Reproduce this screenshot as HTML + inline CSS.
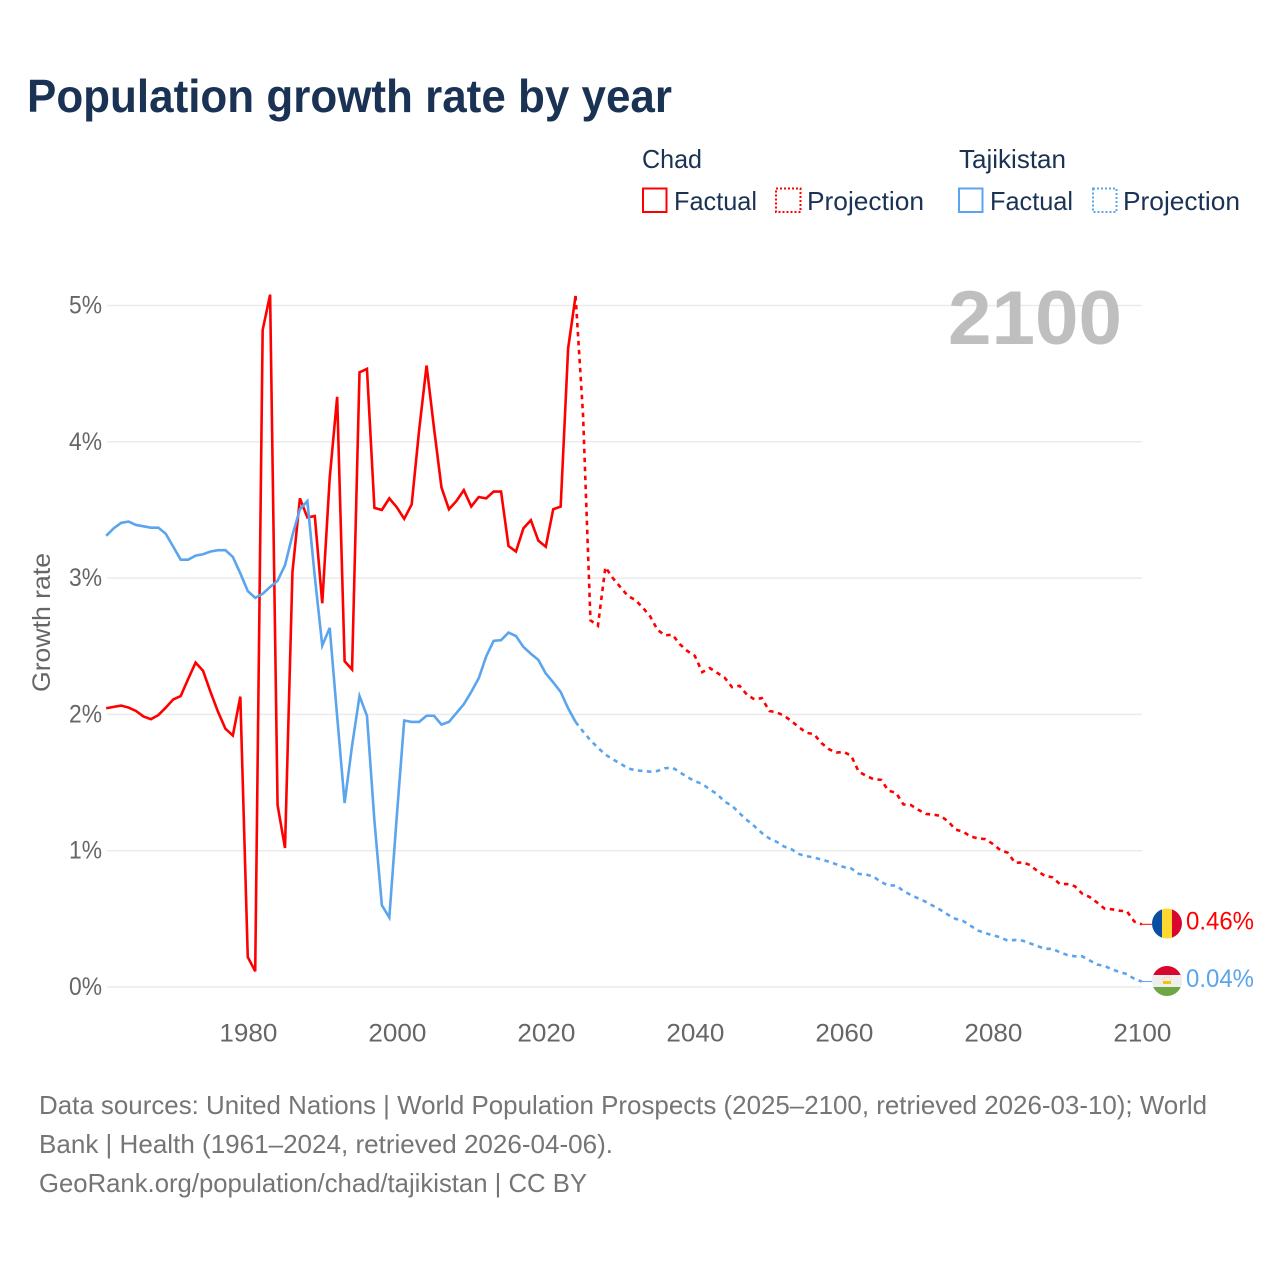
<!DOCTYPE html>
<html lang="en">
<head>
<meta charset="utf-8">
<title>Population growth rate by year</title>
<style>
html,body{margin:0;padding:0;background:#fff;}
svg{display:block;font-family:"Liberation Sans",sans-serif;}
</style>
</head>
<body>
<svg id="chart" xmlns="http://www.w3.org/2000/svg" width="1280" height="1280" viewBox="0 0 1280 1280">
  <rect x="0" y="0" width="1280" height="1280" fill="#ffffff"/>
  <text x="27" y="112" font-size="46" font-weight="700" fill="#1a3354" textLength="645" lengthAdjust="spacingAndGlyphs">Population growth rate by year</text>

  <g font-size="26" fill="#1a3354">
    <text x="642" y="168" textLength="60" lengthAdjust="spacingAndGlyphs">Chad</text>
    <text x="959" y="168" textLength="107" lengthAdjust="spacingAndGlyphs">Tajikistan</text>
    <rect x="643" y="188.5" width="23.5" height="23.5" fill="none" stroke="#ff0000" stroke-width="2"/>
    <text x="674" y="210" textLength="83" lengthAdjust="spacingAndGlyphs">Factual</text>
    <rect x="776" y="188.5" width="24.5" height="23.5" fill="none" stroke="#ff0000" stroke-width="2" stroke-dasharray="2 2"/>
    <text x="807" y="210" textLength="117" lengthAdjust="spacingAndGlyphs">Projection</text>
    <rect x="959" y="188.5" width="23.5" height="23.5" fill="none" stroke="#5ba4ee" stroke-width="2"/>
    <text x="990" y="210" textLength="83" lengthAdjust="spacingAndGlyphs">Factual</text>
    <rect x="1093" y="188.5" width="23.5" height="23.5" fill="none" stroke="#5ba4ee" stroke-width="2" stroke-dasharray="2 2"/>
    <text x="1123" y="210" textLength="117" lengthAdjust="spacingAndGlyphs">Projection</text>
  </g>

  <g id="grid"></g>
  <g id="y-ticks" font-size="25" fill="#666666" text-anchor="end"></g>
  <g id="x-ticks" font-size="25" fill="#666666" text-anchor="middle"></g>
  <text transform="translate(50,622.5) rotate(-90)" font-size="25" fill="#666666" text-anchor="middle" textLength="139" lengthAdjust="spacingAndGlyphs">Growth rate</text>
  <text x="948" y="344" font-size="76" font-weight="700" fill="#bfbfbf" textLength="174" lengthAdjust="spacingAndGlyphs">2100</text>

  <g id="series"></g>

  <defs>
    <clipPath id="clip-chad"><circle cx="1167" cy="923.5" r="15"/></clipPath>
    <clipPath id="clip-tjk"><circle cx="1167" cy="981" r="15"/></clipPath>
  </defs>
  <g clip-path="url(#clip-chad)">
    <rect x="1152" y="908" width="10" height="31" fill="#0a4ea2"/>
    <rect x="1162" y="908" width="10" height="31" fill="#fed731"/>
    <rect x="1172" y="908" width="10" height="31" fill="#d8062e"/>
  </g>
  <g clip-path="url(#clip-tjk)">
    <rect x="1152" y="966" width="30" height="11" fill="#d8062e"/>
    <rect x="1152" y="975" width="30" height="12" fill="#eeeeee"/>
    <rect x="1152" y="987" width="30" height="10" fill="#6ea644"/>
    <rect x="1163" y="981" width="8" height="3" fill="#f8c300"/>
    <path d="M1162.5 980 A5 5 0 0 1 1171.5 980" fill="none" stroke="#f8c88a" stroke-width="1.2" stroke-dasharray="1.2 1.2"/>
  </g>
  <text id="label-chad" x="1186" y="929.5" font-size="25" fill="#ff0000" textLength="68" lengthAdjust="spacingAndGlyphs"></text>
  <text id="label-tjk" x="1186" y="987" font-size="25" fill="#5ba4ee" textLength="68" lengthAdjust="spacingAndGlyphs"></text>

  <g font-size="26" fill="#757575">
    <text x="39" y="1114" textLength="1168" lengthAdjust="spacingAndGlyphs">Data sources: United Nations | World Population Prospects (2025–2100, retrieved 2026-03-10); World</text>
    <text x="39" y="1153" textLength="574" lengthAdjust="spacingAndGlyphs">Bank | Health (1961–2024, retrieved 2026-04-06).</text>
    <text x="39" y="1192" textLength="548" lengthAdjust="spacingAndGlyphs">GeoRank.org/population/chad/tajikistan | CC BY</text>
  </g>
</svg>
<script>
const yTickValues = [0, 1, 2, 3, 4, 5];
const yTickLabels = ["0%", "1%", "2%", "3%", "4%", "5%"];
const xTickValues = [1980, 2000, 2020, 2040, 2060, 2080, 2100];
const xTickLabels = ["1980", "2000", "2020", "2040", "2060", "2080", "2100"];
const factualStartYear = 1961;
const projectionStartYear = 2024;
const chadFactual = [2.045,2.055,2.065,2.05,2.025,1.985,1.965,1.995,2.05,2.11,2.135,2.26,2.38,2.32,2.165,2.02,1.895,1.845,2.13,0.22,0.115,4.82,5.08,1.335,1.02,3.045,3.585,3.445,3.455,2.815,3.735,4.33,2.39,2.33,4.51,4.535,3.515,3.5,3.585,3.52,3.435,3.54,4.085,4.56,4.1,3.665,3.505,3.565,3.645,3.525,3.595,3.585,3.635,3.635,3.235,3.195,3.365,3.425,3.275,3.23,3.505,3.525,4.685,5.07];
const chadProjection = [5.07,4.2,2.69,2.65,3.08,3.0,2.935,2.87,2.84,2.785,2.72,2.62,2.58,2.585,2.515,2.465,2.43,2.31,2.34,2.305,2.27,2.2,2.21,2.145,2.11,2.12,2.025,2.015,1.99,1.95,1.905,1.865,1.855,1.79,1.745,1.72,1.725,1.696,1.58,1.55,1.525,1.52,1.44,1.425,1.34,1.335,1.3,1.27,1.265,1.255,1.215,1.155,1.14,1.105,1.09,1.085,1.05,1.005,0.985,0.91,0.915,0.895,0.85,0.815,0.805,0.755,0.755,0.74,0.685,0.66,0.62,0.575,0.57,0.56,0.555,0.48,0.46];
const tajikFactual = [3.31,3.365,3.405,3.415,3.39,3.38,3.37,3.37,3.325,3.23,3.135,3.135,3.165,3.175,3.195,3.205,3.205,3.155,3.035,2.905,2.855,2.885,2.935,2.98,3.095,3.315,3.505,3.565,3.01,2.505,2.635,1.985,1.35,1.77,2.135,1.99,1.22,0.6,0.51,1.25,1.955,1.945,1.945,1.99,1.99,1.925,1.945,2.01,2.075,2.165,2.265,2.425,2.54,2.545,2.6,2.575,2.495,2.445,2.4,2.3,2.235,2.165,2.045,1.945];
const tajikProjection = [1.945,1.875,1.81,1.755,1.705,1.67,1.64,1.605,1.59,1.585,1.58,1.585,1.605,1.61,1.575,1.54,1.51,1.49,1.45,1.415,1.36,1.33,1.275,1.225,1.18,1.13,1.09,1.065,1.03,1.01,0.975,0.96,0.95,0.935,0.92,0.9,0.88,0.87,0.83,0.825,0.81,0.77,0.745,0.745,0.705,0.675,0.65,0.625,0.595,0.565,0.53,0.5,0.485,0.45,0.415,0.395,0.38,0.365,0.34,0.345,0.34,0.32,0.3,0.28,0.28,0.255,0.235,0.225,0.225,0.195,0.165,0.155,0.13,0.11,0.095,0.06,0.04];
const chadEndLabel = "0.46%";
const tajikEndLabel = "0.04%";

const SVGNS = "http://www.w3.org/2000/svg";
function xScale(year) { return 106.2 + (year - 1961) * (1141.8 - 106.2) / (2100 - 1961); }
function yScale(v) { return 987 - v * (987 - 305.5) / 5; }
function linePoints(startYear, values) {
  return values.map(function (v, i) {
    return xScale(startYear + i).toFixed(2) + "," + yScale(v).toFixed(2);
  }).join(" ");
}
function lastOf(a) { return a[a.length - 1]; }

const gridG = document.getElementById("grid");
const yG = document.getElementById("y-ticks");
yTickValues.forEach(function (v, i) {
  const ln = document.createElementNS(SVGNS, "line");
  
  
  ln.setAttribute("x1", 107);
  ln.setAttribute("x2", 1142);
  ln.setAttribute("y1", yScale(v));
  ln.setAttribute("y2", yScale(v));
  ln.setAttribute("stroke", "#ebebeb");
  ln.setAttribute("stroke-width", "1.5");
  gridG.appendChild(ln);
  const t = document.createElementNS(SVGNS, "text");
  
  
  t.setAttribute("x", 102);
  t.setAttribute("y", yScale(v) + 8);
  t.setAttribute("textLength", "33");
  t.setAttribute("lengthAdjust", "spacingAndGlyphs");
  t.textContent = yTickLabels[i];
  yG.appendChild(t);
});

const xG = document.getElementById("x-ticks");
xTickValues.forEach(function (yr, i) {
  const t = document.createElementNS(SVGNS, "text");
  
  
  t.setAttribute("x", xScale(yr) + 0.6);
  t.setAttribute("y", 1041.5);
  t.setAttribute("textLength", "58");
  t.setAttribute("lengthAdjust", "spacingAndGlyphs");
  t.textContent = xTickLabels[i];
  xG.appendChild(t);
});

const seriesG = document.getElementById("series");
function addLine(name, startYear, values, color, dashed) {
  const p = document.createElementNS(SVGNS, "polyline");
  
  
  p.setAttribute("points", linePoints(startYear, values));
  p.setAttribute("fill", "none");
  p.setAttribute("stroke", color);
  p.setAttribute("stroke-width", "2.6");
  p.setAttribute("stroke-linejoin", "miter");
  if (dashed) p.setAttribute("stroke-dasharray", "4.5 4.5");
  seriesG.appendChild(p);
}
function addStub(name, value, color) {
  const s = document.createElementNS(SVGNS, "line");
  
  
  s.setAttribute("x1", xScale(2100));
  s.setAttribute("x2", 1152);
  s.setAttribute("y1", yScale(value));
  s.setAttribute("y2", yScale(value));
  s.setAttribute("stroke", color);
  s.setAttribute("stroke-width", "1");
  seriesG.appendChild(s);
}
addLine("chad-projection-line", projectionStartYear, chadProjection, "#ff0000", true);
addLine("chad-factual-line", factualStartYear, chadFactual, "#ff0000", false);
addLine("tajikistan-projection-line", projectionStartYear, tajikProjection, "#5ba4ee", true);
addLine("tajikistan-factual-line", factualStartYear, tajikFactual, "#5ba4ee", false);
addStub("chad-end-connector", lastOf(chadProjection), "#ff0000");
addStub("tajikistan-end-connector", lastOf(tajikProjection), "#5ba4ee");

document.getElementById("label-chad").textContent = chadEndLabel;
document.getElementById("label-tjk").textContent = tajikEndLabel;
</script>
</body>
</html>
